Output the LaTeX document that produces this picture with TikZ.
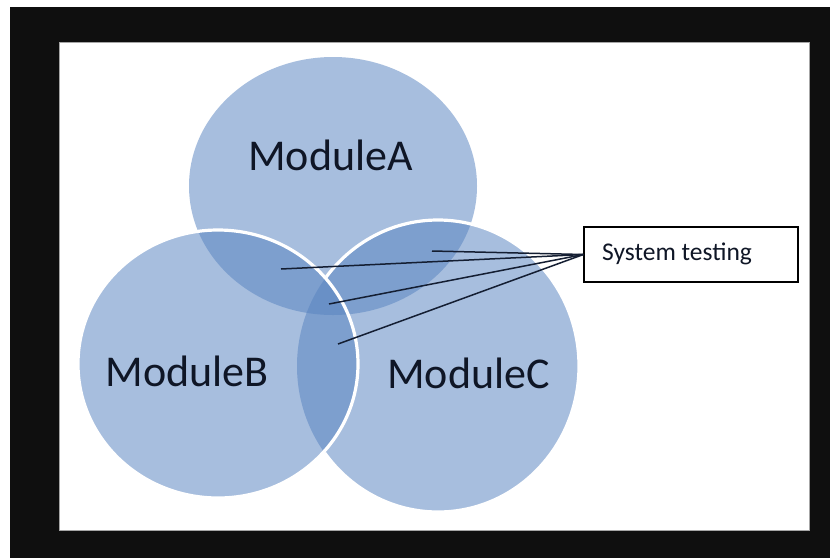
\documentclass[tikz,border=0pt]{standalone}
\usepackage{fontspec}
\setmainfont{Carlito}
\definecolor{frame}{RGB}{15,15,15}
\definecolor{venn}{RGB}{87,131,192}
\definecolor{ink}{RGB}{15,22,38}
\definecolor{lineink}{RGB}{20,30,50}
\tikzset{
  vennfill/.style={fill=venn, fill opacity=0.52},
  vennedge/.style={draw=white, line width=3.2},
  modlabel/.style={anchor=base, inner sep=0pt, text=ink, font=\fontsize{44}{50}\selectfont},
  sysbox/.style={draw=black, line width=1.2, minimum width=214, minimum height=55, inner sep=0pt},
  conn/.style={draw=lineink, line width=1.5}
}
\begin{document}
\begin{tikzpicture}[x=1pt, y=-1pt]
\useasboundingbox (0,0) rectangle (830,558);
\fill[white] (0,0) rectangle (830,558);
\fill[frame] (10,7) rectangle (830,558);
\draw[fill=white, draw=gray!70, line width=0.8] (59,42) rectangle (809,530);
% circles
\path[vennfill] (333,186) ellipse [x radius=144, y radius=129];
\path[vennfill] (438,366) ellipse [x radius=141, y radius=146];
\path[vennfill] (218,364) ellipse [x radius=140, y radius=134];
% white outlines
\begin{scope}[even odd rule]
  \clip (0,0) rectangle (830,558) (218,364) ellipse [x radius=141.5, y radius=135.5];
  \path[vennedge] (438,366) ellipse [x radius=141, y radius=146];
\end{scope}
\path[vennedge] (218,364) ellipse [x radius=140, y radius=134];
% labels
\node[modlabel] (ma) at (330.5,170) {ModuleA};
\node[modlabel] (mb) at (187,386) {ModuleB};
\node[modlabel] (mc) at (468.5,388) {ModuleC};
% system testing box
\node[sysbox] (sys) at (691,254.5) {};
\node[anchor=base west, inner sep=0pt, text=ink, font=\fontsize{25.5}{30}\selectfont] (syst) at (602,260) {System testing};
\coordinate (pAC) at (432,251);
\coordinate (pAB) at (281,269);
\coordinate (pABC) at (329,304);
\coordinate (pBC) at (338,344);
\draw[conn] (sys.west) -- (pAC);
\draw[conn] (sys.west) -- (pAB);
\draw[conn] (sys.west) -- (pABC);
\draw[conn] (sys.west) -- (pBC);
\end{tikzpicture}
\end{document}
